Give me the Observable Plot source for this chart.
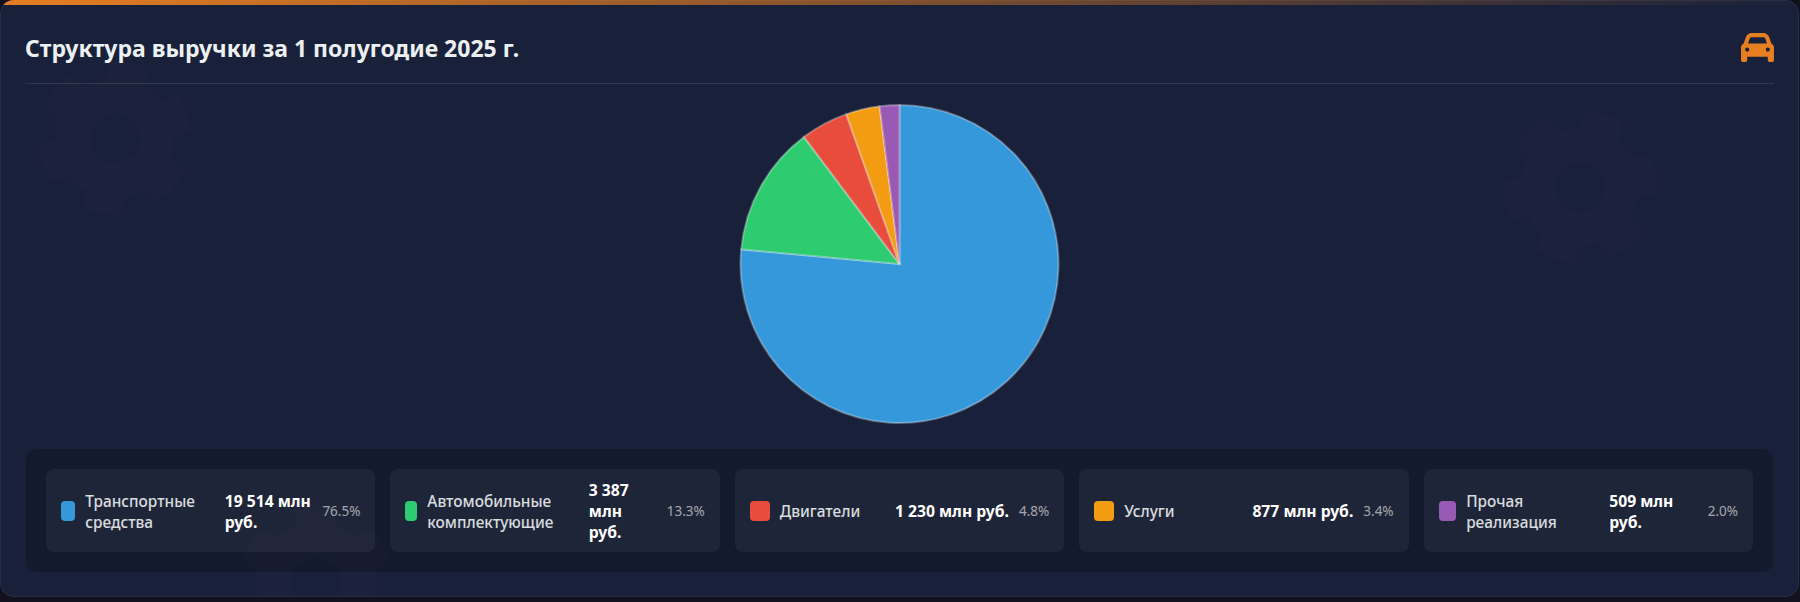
<!DOCTYPE html>
<html lang="ru">
<head>
<meta charset="utf-8">
<script src="https://cdn.jsdelivr.net/npm/d3@7"></script>
<script src="https://cdn.jsdelivr.net/npm/@observablehq/plot@0.6"></script>
<style>
*{box-sizing:border-box}
html,body{margin:0;padding:0;width:1800px;height:602px;overflow:hidden;background:#14111f;font-family:"Noto Sans",sans-serif}
#card{position:absolute;left:0;top:0;width:1799px;height:597px;background:#19213a;border-radius:14px;overflow:hidden;box-shadow:inset 0 0 0 1px rgba(255,255,255,.06)}
#bar{position:absolute;left:0;top:0;width:100%;height:5px;background:linear-gradient(90deg,#e67e22,rgba(230,126,34,0))}
#gears{position:absolute;left:0;top:0}
#title{position:absolute;left:25px;top:30px;margin:0;font-size:23px;line-height:36px;font-weight:700;color:#ecf0f1;white-space:nowrap}
#car{position:absolute;left:1741px;top:31px}
#rule{position:absolute;left:25px;top:83px;width:1749px;height:1px;background:rgba(255,255,255,.1)}
#chart{position:absolute;left:25px;top:84px;width:1749px;height:365px}
#legend{position:absolute;left:26px;top:449px;width:1747px;height:123px;padding:20px;border-radius:10px;background:rgba(0,0,0,.2);display:grid;grid-template-columns:repeat(5,1fr);gap:15px}
.item{display:flex;align-items:center;gap:10px;padding:10px 15px;border-radius:8px;background:rgba(255,255,255,.05);font-size:15.4px;line-height:21px;min-width:0}
.sw{width:20px;height:20px;border-radius:4px;flex:0 1 auto}
.name{flex:1 1 auto;color:#ecf0f1;opacity:.9;font-weight:500;position:relative;top:1px}
.val{font-weight:700;color:#fff;font-size:15.7px;position:relative;top:1px}
.pct{color:#fff;opacity:.58;font-size:13.5px;position:relative;top:1px}
</style>
</head>
<body>
<div id="card">
  <svg id="gears" width="1799" height="597"></svg>
  <div id="bar"></div>
  <h1 id="title">Структура выручки за 1 полугодие 2025 г.</h1>
  <svg id="car" width="33" height="33" viewBox="0 0 512 512"><path fill="#e67e22" d="M135.2 117.4L109.1 192H402.9l-26.1-74.6C372.3 104.6 360.2 96 346.6 96H165.4c-13.6 0-25.7 8.6-30.2 21.4zM39.6 196.8L74.8 96.3C88.3 57.8 124.6 32 165.4 32H346.6c40.8 0 77.1 25.8 90.6 64.3l35.2 100.5c23.2 9.6 39.6 32.5 39.6 59.2V400v48c0 17.7-14.3 32-32 32H448c-17.7 0-32-14.3-32-32V400H96v48c0 17.7-14.3 32-32 32H32c-17.7 0-32-14.3-32-32V400 256c0-26.7 16.4-49.6 39.6-59.2zM128 288a32 32 0 1 0 -64 0 32 32 0 1 0 64 0zm288 32a32 32 0 1 0 0-64 32 32 0 1 0 0 64z"/></svg>
  <div id="rule"></div>
  <div id="chart"></div>
  <div id="legend"></div>
</div>
<script>
const categories = ["Транспортные средства", "Автомобильные комплектующие", "Двигатели", "Услуги", "Прочая реализация"];
const revenue = [19514, 3387, 1230, 877, 509];
const valueLabels = ["19 514 млн руб.", "3 387 млн руб.", "1 230 млн руб.", "877 млн руб.", "509 млн руб."];
const shareLabels = ["76.5%", "13.3%", "4.8%", "3.4%", "2.0%"];
const colors = ["#3498db", "#2ecc71", "#e74c3c", "#f39c12", "#9b59b6"];

const rows = categories.map((name, i) => ({name, value: revenue[i]}));

// A pie mark: Plot has no arc mark, so a dot mark renders d3 arcs through Plot's own scales.
function pie(data, options) {
  return Plot.dot(data, {
    x: () => 0, y: () => 0, fill: "name",
    render(index, scales, values) {
      const cx = values.x[index[0]], cy = values.y[index[0]];
      const r = scales.x(1) - scales.x(0);
      const arcs = d3.pie().sort(null).value(i => data[i].value)(Array.from(index));
      const arc = d3.arc().innerRadius(0).outerRadius(r);
      const g = d3.create("svg:g").attr("aria-label", "pie").attr("transform", `translate(${cx},${cy})`);
      g.selectAll("path").data(arcs).join("path")
        .attr("d", arc)
        .attr("fill", d => values.fill[d.data])
        .attr("stroke", options.stroke)
        .attr("stroke-width", options.strokeWidth);
      return g.node();
    }
  });
}

const chart = Plot.plot({
  width: 1749, height: 365,
  margin: 0,
  style: {background: "transparent"},
  x: {domain: [-1, 1], range: [715.5, 1033.5], axis: null},
  y: {domain: [-1, 1], range: [339, 21], axis: null},
  color: {domain: categories, range: colors},
  marks: [pie(rows, {stroke: "rgba(255,255,255,0.3)", strokeWidth: 2})]
});
document.getElementById("chart").append(chart);

// Legend
const legend = d3.select("#legend");
categories.forEach((name, i) => {
  const item = legend.append("div").attr("class", "item");
  item.append("div").attr("class", "sw").style("background", colors[i]);
  item.append("div").attr("class", "name").text(name);
  item.append("div").attr("class", "val").text(valueLabels[i]);
  item.append("div").attr("class", "pct").text(shareLabels[i]);
});

// Decorative faint gears behind the card content
const gearPath = "M487.4 315.7l-42.6-24.6c4.3-23.2 4.3-47 0-70.2l42.6-24.6c4.9-2.8 7.1-8.6 5.5-14-11.1-35.6-30-67.8-54.7-94.6-3.8-4.1-10-5.1-14.8-2.3L380.8 110c-17.9-15.4-38.5-27.3-60.8-35.1V25.8c0-5.6-3.9-10.5-9.4-11.7-36.7-8.2-74.3-7.8-109.2 0-5.5 1.2-9.4 6.1-9.4 11.7V75c-22.2 7.9-42.8 19.8-60.8 35.1L88.7 85.5c-4.9-2.8-11-1.9-14.8 2.3-24.7 26.7-43.6 58.9-54.7 94.6-1.7 5.4.6 11.2 5.5 14L67.3 221c-4.3 23.2-4.3 47 0 70.2l-42.6 24.6c-4.9 2.8-7.1 8.6-5.5 14 11.1 35.6 30 67.8 54.7 94.6 3.8 4.1 10 5.1 14.8 2.3l42.6-24.6c17.9 15.4 38.5 27.3 60.8 35.1v49.2c0 5.6 3.9 10.5 9.4 11.7 36.7 8.2 74.3 7.8 109.2 0 5.5-1.2 9.4-6.1 9.4-11.7v-49.2c22.2-7.9 42.8-19.8 60.8-35.1l42.6 24.6c4.9 2.8 11 1.9 14.8-2.3 24.7-26.7 43.6-58.9 54.7-94.6 1.5-5.5-.7-11.3-5.6-14.1zM256 336c-44.1 0-80-35.9-80-80s35.9-80 80-80 80 35.9 80 80-35.9 80-80 80z";
const gearPlaces = [[115, 138, 10], [1580, 187, 20], [316, 582, 0]];
d3.select("#gears").selectAll("path").data(gearPlaces).join("path")
  .attr("d", gearPath)
  .attr("fill", "rgba(155,89,182,0.025)")
  .attr("fill-rule", "evenodd")
  .attr("transform", d => `translate(${d[0]},${d[1]}) rotate(${d[2]}) scale(0.31) translate(-256,-256)`);
</script>
</body>
</html>
